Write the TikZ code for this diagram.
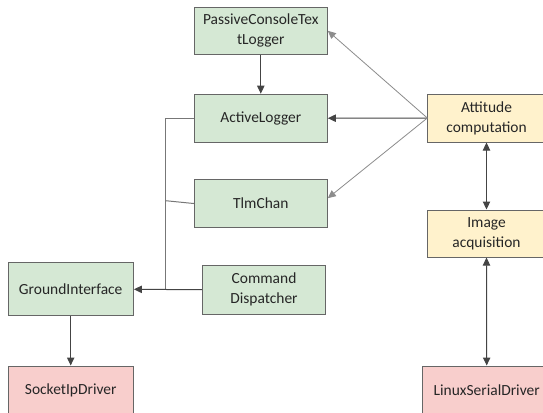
\documentclass[tikz,border=0pt]{standalone}
\usepackage{fontspec}
\setmainfont{Carlito}
\usetikzlibrary{arrows.meta,calc}
\definecolor{greenfill}{HTML}{D5E8D4}
\definecolor{yellowfill}{HTML}{FFF2CC}
\definecolor{redfill}{HTML}{F8CECC}
\definecolor{boxline}{HTML}{666666}
\definecolor{txt}{HTML}{262626}
\definecolor{darkline}{HTML}{444444}
\definecolor{midline}{HTML}{777777}
\definecolor{lightline}{HTML}{8C8C8C}
\tikzset{
  box/.style={draw=boxline, line width=0.75pt, text=txt, align=center,
    inner sep=0pt, font=\fontsize{11.6}{15}\selectfont},
  comp/.style={box, fill=greenfill},
  app/.style={box, fill=yellowfill},
  drv/.style={box, fill=redfill},
  tip/.style={-{Triangle[length=6pt,width=5.5pt]}},
  dtip/.style={{Triangle[length=6pt,width=5.5pt]}-{Triangle[length=6pt,width=5.5pt]}},
  dark/.style={draw=darkline, line width=0.75pt},
  mid/.style={draw=midline, line width=0.75pt},
  light/.style={draw=lightline, line width=0.6pt},
}
\begin{document}
\begin{tikzpicture}[x=0.75pt, y=-0.75pt]
  \useasboundingbox (0,0) rectangle (543,412);
  \clip (0,0) rectangle (543,412);
  \fill[white] (0,0) rectangle (543,412);

  % components
  \node[comp, minimum width=99.75pt, minimum height=35.25pt] (passive) at (260.8,30.8) {PassiveConsoleTex\\tLogger};
  \node[comp, minimum width=99.75pt, minimum height=36pt] (active) at (260.8,118.2) {ActiveLogger};
  \node[comp, minimum width=99.75pt, minimum height=36pt] (tlm) at (260.8,203.5) {TlmChan};
  \node[comp, minimum width=92.5pt, minimum height=37pt] (cmd) at (264,289.7) {Command\\Dispatcher};
  \node[comp, minimum width=94pt, minimum height=40pt] (ground) at (70.7,289.3) {GroundInterface};
  \node[drv, minimum width=94pt, minimum height=36pt] (socket) at (70.7,390) {SocketIpDriver};

  % application side
  \node[app, minimum width=88pt, minimum height=36pt] (att) at (486.5,118) {Attitude\\computation};
  \node[app, minimum width=88pt, minimum height=35.25pt] (img) at (486.5,233.5) {Image\\acquisition};
  \node[drv, minimum width=97pt, minimum height=36pt] (linux) at (486.7,390) {LinuxSerialDriver};

  % bus towards the ground interface
  \coordinate (bustop) at (165.7,118.2);
  \coordinate (busmid) at (165.7,200.7);
  \coordinate (busbot) at (165.7,289.5);

  \draw[mid] (active.west) -- (bustop) -- (busbot);
  \draw[mid] (tlm.west) -- (busmid);
  \draw[dark, tip] (cmd.west) -- (ground.east);

  % arrows
  \draw[dark, tip] (passive.south) -- (active.north);
  \draw[dark, tip] (att.west) -- (active.east);
  \draw[light, tip] (att.west) -- (passive.east);
  \draw[light, tip] (att.west) -- ([yshift=4pt]tlm.east);
  \draw[dark, dtip] (att.south) -- (img.north);
  \draw[dark, dtip] (img.south) -- (linux.north);
  \draw[dark, tip] (ground.south) -- (socket.north);
\end{tikzpicture}
\end{document}
